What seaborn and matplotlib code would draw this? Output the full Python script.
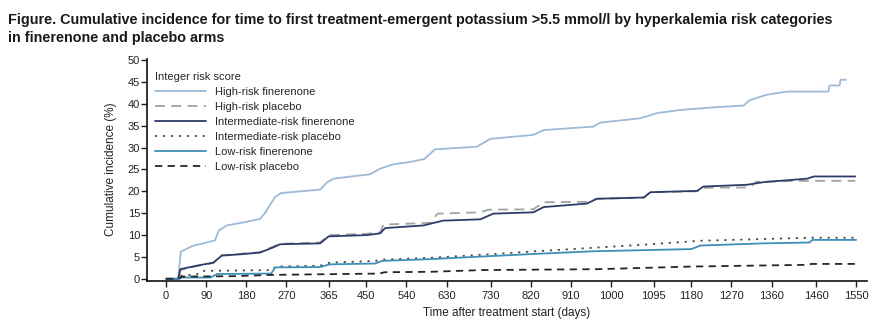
import matplotlib
matplotlib.use("Agg")
import matplotlib.pyplot as plt
import seaborn as sns
import pandas as pd

# Cumulative incidence paths (day, %) for each arm / risk category
high_fin_days = [0, 27, 33, 61, 84, 110, 118, 136, 174, 211, 222, 234, 245, 258, 346, 361, 376, 458, 481,
                 511, 548, 580, 604, 698, 728, 825, 848, 960, 975, 1065, 1103, 1155, 1230, 1297, 1310,
                 1350, 1395, 1488, 1490, 1513, 1515, 1527]
high_fin_vals = [0, 0, 6.2, 7.6, 8.1, 8.8, 11.0, 12.2, 12.9, 13.7, 15.0, 17.0, 18.7, 19.6, 20.4, 22.0, 22.9,
                 23.9, 25.2, 26.2, 26.7, 27.4, 29.6, 30.2, 32.0, 32.9, 34.0, 34.8, 35.7, 36.7, 37.9, 38.6,
                 39.2, 39.6, 40.8, 42.1, 42.8, 42.8, 44.2, 44.2, 45.5, 45.5]

high_pbo_days = [0, 27, 32, 69, 106, 125, 166, 211, 241, 256, 346, 365, 451, 481, 488, 593, 610, 706, 724,
                 825, 848, 945, 968, 1073, 1088, 1193, 1207, 1312, 1325, 1440, 1548]
high_pbo_vals = [0, 0, 2.0, 2.9, 3.6, 5.4, 5.7, 6.1, 7.4, 8.0, 8.3, 10.0, 10.3, 10.6, 12.4, 12.8, 14.9, 15.2,
                 15.8, 15.9, 17.5, 17.6, 18.3, 18.5, 19.8, 20.0, 20.8, 20.9, 22.2, 22.4, 22.4]

int_fin_days = [0, 27, 32, 69, 106, 125, 166, 211, 241, 256, 346, 365, 451, 481, 492, 578, 622, 706, 735,
                825, 848, 945, 968, 1073, 1088, 1193, 1207, 1305, 1342, 1440, 1455, 1548]
int_fin_vals = [0, 0, 2.2, 3.0, 3.7, 5.3, 5.6, 6.0, 7.2, 7.9, 8.1, 9.7, 10.0, 10.4, 11.6, 12.2, 13.3, 13.6,
                14.9, 15.2, 16.4, 17.2, 18.3, 18.6, 19.8, 20.1, 21.1, 21.5, 22.1, 22.9, 23.4, 23.4]

int_pbo_days = [0, 27, 32, 69, 80, 240, 245, 346, 368, 470, 490, 593, 710, 830, 960, 1073, 1200, 1450, 1550]
int_pbo_vals = [0, 0, 0.7, 1.0, 1.8, 2.0, 2.8, 3.0, 3.7, 4.1, 4.4, 4.8, 5.5, 6.3, 7.1, 7.8, 8.7, 9.4, 9.4]

low_fin_days = [0, 30, 35, 100, 115, 236, 245, 346, 368, 470, 485, 593, 710, 830, 960, 1180, 1200, 1340,
                1445, 1452, 1550]
low_fin_vals = [0, 0, 0.3, 0.3, 1.1, 1.2, 2.6, 2.7, 3.3, 3.5, 4.1, 4.5, 5.1, 5.7, 6.3, 6.8, 7.6, 8.1,
                8.3, 8.9, 8.9]

low_pbo_days = [0, 27, 35, 150, 240, 480, 490, 593, 710, 968, 1180, 1440, 1450, 1550]
low_pbo_vals = [0, 0, 0.5, 0.6, 0.9, 1.2, 1.5, 1.6, 2.0, 2.2, 2.8, 3.2, 3.4, 3.4]

series_names = ["High-risk finerenone", "High-risk placebo", "Intermediate-risk finerenone",
                "Intermediate-risk placebo", "Low-risk finerenone", "Low-risk placebo"]
series_days = [high_fin_days, high_pbo_days, int_fin_days, int_pbo_days, low_fin_days, low_pbo_days]
series_vals = [high_fin_vals, high_pbo_vals, int_fin_vals, int_pbo_vals, low_fin_vals, low_pbo_vals]

x_ticks = [0, 90, 180, 270, 365, 450, 540, 630, 730, 820, 910, 1000, 1095, 1180, 1270, 1360, 1460, 1550]
y_ticks = [0, 5, 10, 15, 20, 25, 30, 35, 40, 45, 50]

colors = ["#9dbad6", "#a3a3a3", "#2d3c6b", "#4a4a4a", "#3d8fb8", "#262626"]
dash_styles = ["-", (0, (5.5, 3.5)), "-", (0, (1.2, 3.2)), "-", (0, (4, 3))]

sns.set_theme(style="ticks")
plt.rcParams["font.family"] = ["Liberation Sans", "DejaVu Sans"]

fig = plt.figure(figsize=(8.8, 3.36), dpi=100)
ax = fig.add_axes([0.167, 0.165, 0.818, 0.66])

for name, d, v, c, ls in zip(series_names, series_days, series_vals, colors, dash_styles):
    df = pd.DataFrame({"day": d, "pct": v})
    sns.lineplot(data=df, x="day", y="pct", ax=ax, color=c, linestyle=ls, linewidth=1.3,
                 estimator=None, sort=False, label=name)

ax.set_xlim(-43, 1574)
ax.set_ylim(-0.4, 50.3)
ax.set_xticks(x_ticks)
ax.set_yticks(y_ticks)
ax.tick_params(axis="both", labelsize=8, colors="#222222", length=4, width=1, direction="out")
ax.tick_params(axis="y", pad=1)
for s in ["top", "right"]:
    ax.spines[s].set_visible(False)
for s in ["left", "bottom"]:
    ax.spines[s].set_linewidth(1.2)
    ax.spines[s].set_color("#111111")

ax.set_xlabel("Time after treatment start (days)", fontsize=8.5, color="#222222", labelpad=4)
ax.set_ylabel("Cumulative incidence (%)", fontsize=8.5, color="#222222", labelpad=8)

leg = ax.legend(title="Integer risk score", loc="upper left", bbox_to_anchor=(0.005, 0.96),
                frameon=False, fontsize=8, title_fontsize=8, handlelength=4.6, handletextpad=0.8,
                labelspacing=0.45, alignment="left", borderaxespad=0)

fig.text(0.009, 0.962,
         "Figure. Cumulative incidence for time to first treatment-emergent potassium >5.5 mmol/l by hyperkalemia risk categories\n"
         "in finerenone and placebo arms",
         ha="left", va="top", fontsize=10.4, fontweight="bold", color="#1a1a1a",
         family=["Liberation Sans", "DejaVu Sans"], linespacing=1.4)

fig.savefig("out.png", dpi=100, facecolor="white")
